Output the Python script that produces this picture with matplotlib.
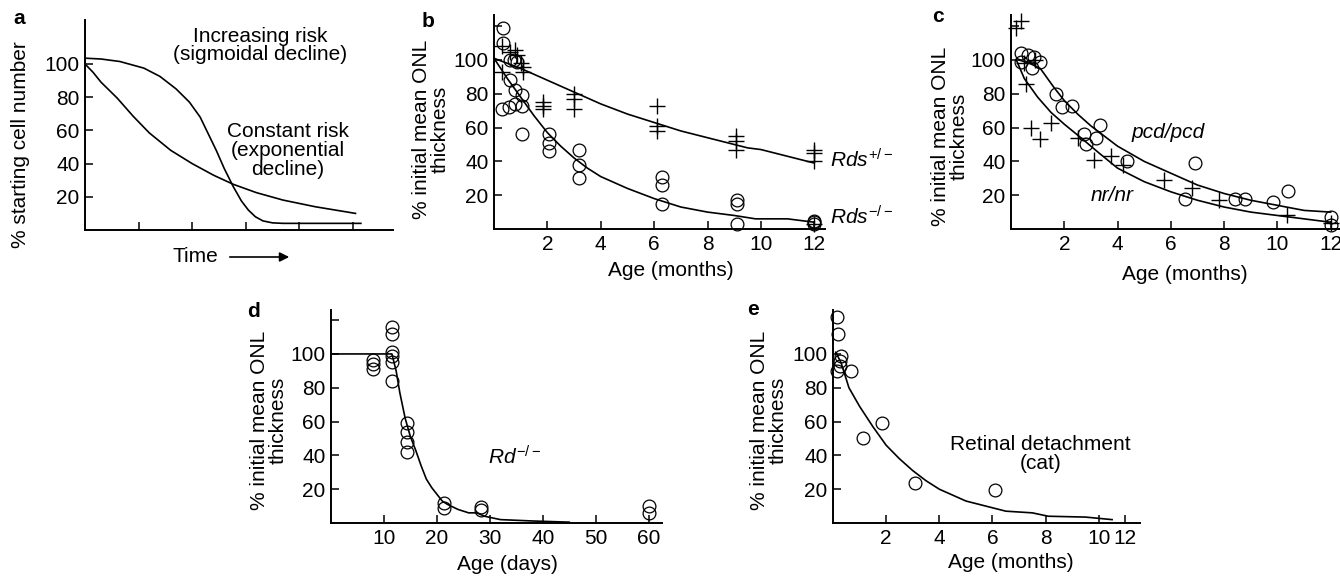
import numpy as np
import matplotlib
matplotlib.use("Agg")
import matplotlib.pyplot as plt

plt.rcParams['font.family'] = ['Liberation Sans', 'DejaVu Sans']
plt.rcParams['mathtext.fontset'] = 'custom'
plt.rcParams['mathtext.rm'] = 'Liberation Sans'
plt.rcParams['mathtext.it'] = 'Liberation Sans:italic'
plt.rcParams['font.size'] = 15

# panel a: schematic curves (time in arbitrary tick units)
a_exp_x = [0, 0.15, 0.3, 0.6, 0.9, 1.2, 1.6, 2.0, 2.4, 2.77, 3.2, 3.7, 4.3, 5.05]
a_exp_y = [100, 95, 89, 79.5, 68.5, 58.5, 48, 40, 33, 27.5, 22.5, 18, 14, 10]
a_sig_x = [0, 0.3, 0.65, 1.1, 1.4, 1.7, 1.95, 2.15, 2.3, 2.45, 2.6, 2.77, 2.92, 3.05, 3.18, 3.32, 3.5, 3.7, 5.15]
a_sig_y = [103.5, 103, 101.5, 97.5, 92.5, 85, 77, 68, 58, 48, 37, 26, 17.5, 12, 8, 5.5, 4.3, 4, 4]

# panel b: Rds+/- (crosses) and Rds-/- (circles)
b_pm_x = [0.3, 0.3, 0.6, 0.8, 0.85, 1.0, 1.1, 1.1, 1.85, 1.85, 1.85, 3.0, 3.0, 3.0, 6.1, 6.1, 6.1, 9.05, 9.05, 9.05, 12, 12, 12, 12]
b_pm_y = [108, 93, 105, 106, 103, 98, 96, 93, 75, 73, 71, 80, 77, 71, 73, 61, 58, 55, 52, 47, 47, 45, 40, 3]
b_mm_x = [0.35, 0.35, 0.6, 0.75, 0.85, 0.6, 0.8, 1.05, 0.3, 0.55, 0.8, 1.05, 1.05, 2.05, 2.05, 2.05, 3.2, 3.2, 3.2, 6.3, 6.3, 6.3, 9.1, 9.1, 9.1, 12, 12, 12]
b_mm_y = [119, 110, 100, 100, 99, 88, 82, 79, 71, 72, 74, 73, 56, 56, 51, 46, 47, 38, 30, 31, 26, 15, 17, 15, 3, 5, 4, 3]
b_pm_line_x = [0, 0.5, 1, 2, 3, 4, 5, 6, 7, 8, 9, 9.5, 10, 11, 12]
b_pm_line_y = [101, 98, 95, 88, 81, 74, 68, 63, 58, 54, 50, 48, 47, 43, 39]
b_mm_line_x = [0, 0.5, 1, 1.5, 2, 2.5, 3, 3.5, 4, 5, 6, 7, 8, 9, 9.8, 11, 12]
b_mm_line_y = [101, 89, 78, 67, 57, 49, 42, 36, 31, 24, 18, 13, 10, 8, 6, 6, 4]

# panel c: nr/nr (crosses) and pcd/pcd (circles)
c_nr_x = [0.37, 0.2, 0.5, 0.9, 0.55, 0.75, 1.1, 1.5, 2.5, 3.1, 3.75, 4.2, 5.75, 6.8, 7.8, 10.35, 12]
c_nr_y = [123, 119, 98, 100, 86, 60, 53, 63, 54, 41, 43, 38, 29, 24, 17, 8, 3.5]
c_pcd_x = [0.37, 0.37, 0.65, 0.85, 0.8, 1.1, 1.7, 1.9, 2.3, 2.75, 2.8, 3.2, 3.35, 4.35, 6.9, 6.55, 8.4, 8.8, 9.85, 10.4, 12, 12]
c_pcd_y = [104, 99, 103, 102, 95, 99, 80, 72, 73, 56, 50, 54, 61.5, 40, 39, 17.5, 17.5, 17.5, 16, 22.5, 7, 2.4]
c_pcd_line_x = [0.3, 0.7, 1.1, 1.6, 2, 2.5, 3, 4, 5, 6, 7, 8, 9, 10, 11, 12]
c_pcd_line_y = [100, 98, 95, 84, 76, 68, 61, 49, 40, 33, 26, 21, 17, 14, 11, 10]
c_nr_line_x = [0.2, 0.5, 1, 1.5, 2, 2.7, 3.3, 4, 5, 6, 7, 8, 9, 10, 11, 12]
c_nr_line_y = [100, 89, 78, 69, 62, 53, 45, 36, 28, 22, 17, 13, 10, 8, 6, 4]

# panel d: Rd-/- (days)
d_x = [7.9, 7.9, 7.9, 11.6, 11.6, 11.6, 11.6, 11.6, 11.6, 14.4, 14.4, 14.4, 14.4, 21.4, 21.4, 28.4, 28.4, 60, 60]
d_y = [96.5, 94, 91, 116, 112, 101, 99, 95, 84, 59, 54, 48, 42, 12, 9, 9.5, 7.7, 10, 6]
d_line_x = [0, 11.5, 12.3, 13, 14, 15, 16, 17, 18, 19, 20, 21, 22, 24, 26, 27.5, 29, 30.5, 32, 38, 45]
d_line_y = [100, 100, 90, 77, 62, 51, 43, 34, 26, 21, 17, 13, 11, 8, 6, 6, 4, 3, 2, 1.2, 0.5]

# panel e: retinal detachment (cat)
e_x = [0.15, 0.2, 0.3, 0.27, 0.25, 0.15, 0.67, 1.13, 1.85, 3.1, 6.1]
e_y = [122, 112, 99, 96, 93, 90, 90, 50, 59, 23.6, 19.5]
e_line_x = [0.1, 0.3, 0.6, 1, 1.5, 2, 2.5, 3, 3.5, 4, 5, 6, 6.5, 7.5, 8.1, 9.5, 10.5]
e_line_y = [101, 95, 80, 69, 57, 46, 38, 31, 25, 20, 13, 9, 7, 6, 4, 3.5, 2]

y_ticks = [20, 40, 60, 80, 100]

W, H = 1340, 576
fig = plt.figure(figsize=(W / 100, H / 100), dpi=100)


def rect(l, r, t, b):
    return [l / W, 1 - b / H, (r - l) / W, (b - t) / H]


def style(ax, top_tick=True):
    for s in ['top', 'right']:
        ax.spines[s].set_visible(False)
    for s in ['left', 'bottom']:
        ax.spines[s].set_linewidth(1.4)
    ax.tick_params(direction='in', length=6, width=1.1, labelsize=15, pad=4)
    ticks = y_ticks + [120] if top_tick else y_ticks
    ax.set_yticks(ticks)
    ax.set_yticklabels([str(t) if t <= 100 else '' for t in ticks])


def ftext(x, y, s, **kw):
    fig.text(x / W, 1 - y / H, s, **kw)


circ = dict(ls='none', marker='o', ms=9.2, mfc='none', mec='black', mew=0.9)
cross = dict(ls='none', marker='+', ms=11, mec='black', mew=1.0)
line = dict(color='black', lw=1.2)

# a
ax = fig.add_axes(rect(85, 393, 20, 230))
ax.plot(a_exp_x, a_exp_y, **line)
ax.plot(a_sig_x, a_sig_y, **line)
ax.set_xlim(0, 5.75)
ax.set_ylim(0, 126.5)
style(ax, top_tick=False)
ax.set_xticks([1, 2, 3, 4, 5])
ax.set_xticklabels([])
ax.text(3.27, 111, "Increasing risk\n(sigmoidal decline)", ha='center', va='center', linespacing=0.95)
ax.text(3.79, 48, "Constant risk\n(exponential\ndecline)", ha='center', va='center', linespacing=1.0)
ftext(21, 145, "% starting cell number", rotation=90, ha='center', va='center')
ftext(195, 257, "Time", ha='center', va='center')
fig.add_artist(matplotlib.patches.FancyArrowPatch((227 / W, 1 - 257 / H), (292 / W, 1 - 257 / H),
               transform=fig.transFigure, arrowstyle='-|>', mutation_scale=14, color='black', lw=1.2))

# b
ax = fig.add_axes(rect(494, 825, 15, 229))
ax.plot(b_pm_line_x, b_pm_line_y, **line)
ax.plot(b_mm_line_x, b_mm_line_y, **line)
ax.plot(b_mm_x, b_mm_y, clip_on=False, **circ)
ax.plot(b_pm_x, b_pm_y, clip_on=False, **cross)
ax.set_xlim(0, 12.4)
ax.set_ylim(0, 126.6)
style(ax)
ax.set_xticks([2, 4, 6, 8, 10, 12])
ax.text(12.58, 41, r'$\mathit{Rds}^{+/-}$', ha='left', va='center', fontsize=15)
ax.text(12.58, 7, r'$\mathit{Rds}^{-/-}$', ha='left', va='center', fontsize=15)
ftext(431, 129, "% initial mean ONL\nthickness", rotation=90, ha='center', va='center', linespacing=1.0)
ftext(671, 270, "Age (months)", ha='center', va='center')

# c
ax = fig.add_axes(rect(1011, 1340, 15, 229))
ax.plot(c_pcd_line_x, c_pcd_line_y, **line)
ax.plot(c_nr_line_x, c_nr_line_y, **line)
ax.plot(c_pcd_x, c_pcd_y, clip_on=False, **circ)
ax.plot(c_nr_x, c_nr_y, clip_on=False, **cross)
ax.set_xlim(0, 12.35)
ax.set_ylim(0, 126.6)
style(ax)
ax.set_xticks([2, 4, 6, 8, 10, 12])
ax.text(5.9, 57, "pcd/pcd", style='italic', ha='center', va='center')
ax.text(3.8, 20, "nr/nr", style='italic', ha='center', va='center')
ftext(950, 136, "% initial mean ONL\nthickness", rotation=90, ha='center', va='center', linespacing=1.0)
ftext(1185, 275, "Age (months)", ha='center', va='center')

# d
ax = fig.add_axes(rect(331, 662, 310, 523))
ax.plot(d_line_x, d_line_y, **line)
ax.plot(d_x, d_y, clip_on=False, **circ)
ax.set_xlim(0, 62.5)
ax.set_ylim(0, 126)
style(ax)
ax.set_xticks([10, 20, 30, 40, 50, 60])
ax.text(29.6, 39, r'$\mathit{Rd}^{-/-}$', ha='left', va='center', fontsize=15)
ftext(269, 420, "% initial mean ONL\nthickness", rotation=90, ha='center', va='center', linespacing=1.0)
ftext(507, 565, "Age (days)", ha='center', va='center')

# e
ax = fig.add_axes(rect(833, 1140, 310, 523))
ax.plot(e_line_x, e_line_y, **line)
ax.plot(e_x, e_y, clip_on=False, **circ)
ax.set_xlim(0, 11.55)
ax.set_ylim(0, 126)
style(ax, top_tick=False)
ax.set_xticks([2, 4, 6, 8, 10, 11])
ax.set_xticklabels(['2', '4', '6', '8', '10', '12'])
ax.text(7.8, 41, "Retinal detachment\n(cat)", ha='center', va='center', linespacing=1.0)
ftext(769, 420, "% initial mean ONL\nthickness", rotation=90, ha='center', va='center', linespacing=1.0)
ftext(1011, 563, "Age (months)", ha='center', va='center')

# panel letters
for lab, x, y in [('a', 13, 24), ('b', 422, 27), ('c', 932, 22), ('d', 247, 317), ('e', 747, 315)]:
    ftext(x, y, lab, fontweight='bold', fontsize=15, ha='left', va='baseline')

fig.savefig("out.png", dpi=100)
